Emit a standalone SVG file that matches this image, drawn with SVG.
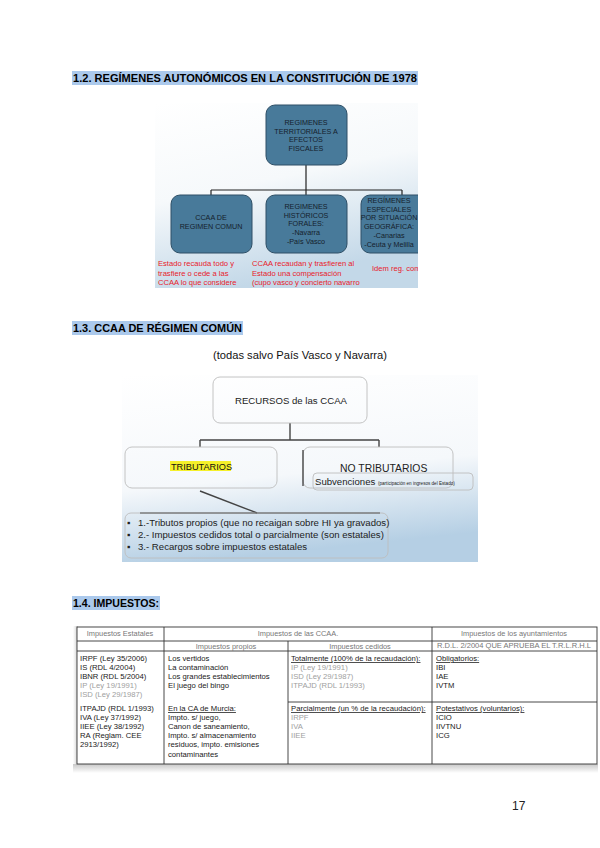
<svg xmlns="http://www.w3.org/2000/svg" width="600" height="848" viewBox="0 0 600 848">
<defs>
<linearGradient id="bg1" x1="0" y1="0" x2="0.3" y2="1">
<stop offset="0" stop-color="#ffffff"/>
<stop offset="0.5" stop-color="#f6f9fb"/>
<stop offset="1" stop-color="#c3d8e8"/>
</linearGradient>
<linearGradient id="bg2" x1="0" y1="0" x2="0.2" y2="1">
<stop offset="0" stop-color="#ffffff"/>
<stop offset="0.6" stop-color="#f5f8fb"/>
<stop offset="1" stop-color="#b5cfe4"/>
</linearGradient>
<linearGradient id="shadowB" x1="0" y1="0" x2="0" y2="1">
<stop offset="0" stop-color="#c8c8c8"/>
<stop offset="1" stop-color="#ffffff"/>
</linearGradient>
<linearGradient id="shadowL" x1="0" y1="0" x2="1" y2="0">
<stop offset="0" stop-color="#ffffff"/>
<stop offset="1" stop-color="#cfcfcf"/>
</linearGradient>
<clipPath id="clip1"><rect x="155" y="103" width="263" height="185"/></clipPath>
</defs>
<style>
text{font-family:"Liberation Sans",Arial,sans-serif}
.h{font-size:11.5px;font-weight:bold;fill:#000}
.hl{fill:#abc9ec}
.bn{fill:#487a9a;stroke:#2e4f66;stroke-width:1}
.bt{font-size:7.2px;fill:#15212c;text-anchor:middle}
.red{font-size:7.6px;fill:#e8202a}
.c1{stroke:#222;stroke-width:1.2;fill:none}
.c2{stroke:#444;stroke-width:1.4;fill:none}
.gb{fill:none;stroke:#bdbdbd;stroke-width:0.9}
.t{font-size:7.7px;fill:#1a1a1a}
.tg{font-size:7.7px;fill:#a0a0a0}
.th{font-size:7.4px;fill:#777;text-anchor:middle}
.tl{stroke:#333;stroke-width:0.9}
.b2{font-size:9.6px;fill:#222}
</style>

<!-- Heading 1.2 -->
<g id="heading12">
<rect class="hl" x="72" y="71" width="346" height="14"/>
<text class="h" x="73" y="82" textLength="344" lengthAdjust="spacingAndGlyphs">1.2. REGÍMENES AUTONÓMICOS EN LA CONSTITUCIÓN DE 1978</text>
</g>

<!-- Image 1 -->
<g id="image1" clip-path="url(#clip1)">
<rect x="155" y="103" width="263" height="185" fill="url(#bg1)"/>
<g id="connectors1">
<path class="c1" d="M306 165 V190 M211 190 H402 M211 190 V195 M306 190 V195 M402 190 V195"/>
</g>
<g id="n_top">
<rect class="bn" x="266" y="105" width="81" height="60" rx="9"/>
<text class="bt" x="306" y="125">REGIMENES</text>
<text class="bt" x="306" y="133.5">TERRITORIALES A</text>
<text class="bt" x="306" y="142">EFECTOS</text>
<text class="bt" x="306" y="150.5">FISCALES</text>
</g>
<g id="n_comun">
<rect class="bn" x="171" y="195" width="81" height="58" rx="9"/>
<text class="bt" x="211" y="220">CCAA DE</text>
<text class="bt" x="211" y="229">REGIMEN COMUN</text>
</g>
<g id="n_forales">
<rect class="bn" x="266" y="195" width="81" height="58" rx="9"/>
<text class="bt" x="306" y="209">REGIMENES</text>
<text class="bt" x="306" y="217.5">HISTÓRICOS</text>
<text class="bt" x="306" y="226">FORALES:</text>
<text class="bt" x="306" y="235">-Navarra</text>
<text class="bt" x="306" y="244">-País Vasco</text>
</g>
<g id="n_especiales">
<rect class="bn" x="361" y="195" width="72" height="58" rx="9"/>
<text class="bt" x="389" y="203">REGÍMENES</text>
<text class="bt" x="389" y="211.5">ESPECIALES</text>
<text class="bt" x="389" y="220">POR SITUACIÓN</text>
<text class="bt" x="389" y="228.5">GEOGRÁFICA:</text>
<text class="bt" x="389" y="238">-Canarias</text>
<text class="bt" x="389" y="247">-Ceuta y Melilla</text>
</g>
<g id="notes1">
<text class="red" x="158" y="266">Estado recauda todo y</text>
<text class="red" x="158" y="275.5">trasfiere o cede a las</text>
<text class="red" x="158" y="285">CCAA lo que considere</text>
<text class="red" x="252" y="266">CCAA recaudan y trasfieren al</text>
<text class="red" x="252" y="275.5">Estado una compensación</text>
<text class="red" x="252" y="285">(cupo vasco y concierto navarro</text>
<text class="red" x="372" y="271">Idem reg. común</text>
</g>
</g>

<!-- Heading 1.3 -->
<g id="heading13">
<rect class="hl" x="72" y="321" width="171" height="14"/>
<text class="h" x="73" y="332" textLength="169" lengthAdjust="spacingAndGlyphs">1.3. CCAA DE RÉGIMEN COMÚN</text>
</g>
<text x="213" y="359" font-size="11.5" fill="#111" textLength="174" lengthAdjust="spacingAndGlyphs">(todas salvo País Vasco y Navarra)</text>

<!-- Image 2 -->
<g id="image2">
<rect x="122" y="375" width="356" height="187" fill="url(#bg2)"/>
<g id="connectors2">
<path class="c2" d="M290 423 V440 M200 440 H379 M200 440 V447 M379 440 V447"/>
<path class="c2" d="M200 491 L257 513"/>
</g>
<g id="n_recursos">
<rect class="gb" x="213" y="377" width="154" height="46" rx="7"/>
<text x="235" y="404" font-size="9.6" fill="#222">RECURSOS de las CCAA</text>
</g>
<g id="n_tributarios">
<rect class="gb" x="125" y="447" width="152" height="41" rx="7"/>
<rect x="170" y="461" width="61" height="10" fill="#f5f02a"/>
<text x="171" y="469.5" font-size="9.2" fill="#111">TRIBUTARIOS</text>
</g>
<g id="n_notributarios">
<rect class="gb" x="303" y="447" width="150" height="41" rx="7"/>
<line x1="303" y1="450" x2="303" y2="486" stroke="#333" stroke-width="1.2"/>
<text x="340" y="472" font-size="10.4" fill="#222">NO TRIBUTARIOS</text>
<rect class="gb" x="313" y="473" width="160" height="17" rx="4"/>
<text x="315" y="485" font-size="9.6" fill="#222">Subvenciones <tspan font-size="4.6">(participación en ingresos del Estado)</tspan></text>
</g>
<g id="n_lista">
<rect class="gb" x="125" y="513" width="263" height="45" rx="6"/>
<line x1="140" y1="513" x2="380" y2="513" stroke="#555" stroke-width="1"/>
<text class="b2" x="127" y="526">▪</text>
<text class="b2" x="138" y="526">1.-Tributos propios (que no recaigan sobre HI ya gravados)</text>
<text class="b2" x="127" y="538">▪</text>
<text class="b2" x="138" y="538">2.- Impuestos cedidos total o parcialmente (son estatales)</text>
<text class="b2" x="127" y="550">▪</text>
<text class="b2" x="138" y="550">3.- Recargos sobre impuestos estatales</text>
</g>
</g>

<!-- Heading 1.4 -->
<g id="heading14">
<rect class="hl" x="72" y="596" width="88" height="14"/>
<text class="h" x="73" y="607" textLength="86" lengthAdjust="spacingAndGlyphs">1.4. IMPUESTOS:</text>
</g>

<!-- Table -->
<g id="table">
<rect x="73" y="626" width="5" height="140" fill="url(#shadowL)"/>
<rect x="73" y="764" width="525" height="9" fill="url(#shadowB)"/>
<rect x="77" y="627" width="520" height="137" fill="#fff"/>
<g id="tablelines">
<rect x="77" y="627" width="520" height="137" fill="none" stroke="#333" stroke-width="0.9"/>
<line class="tl" x1="77" y1="641" x2="597" y2="641"/>
<line class="tl" x1="164" y1="651" x2="432" y2="651"/>
<line class="tl" x1="77" y1="651" x2="164" y2="651"/>
<line class="tl" x1="432" y1="651" x2="597" y2="651"/>
<line class="tl" x1="164" y1="627" x2="164" y2="764"/>
<line class="tl" x1="288" y1="641" x2="288" y2="764"/>
<line class="tl" x1="432" y1="627" x2="432" y2="764"/>
<line class="tl" x1="288" y1="702" x2="597" y2="702"/>
</g>
<text class="th" x="120" y="636">Impuestos Estatales</text>
<text class="th" x="298" y="636">Impuestos de las CCAA.</text>
<text class="th" x="514" y="636">Impuestos de los ayuntamientos</text>
<text class="th" x="514" y="648" textLength="154" lengthAdjust="spacingAndGlyphs">R.D.L. 2/2004 QUE APRUEBA EL T.R.L.R.H.L</text>
<text class="th" x="226" y="648.5">Impuestos propios</text>
<text class="th" x="360" y="648.5">Impuestos cedidos</text>

<text class="t" x="80" y="661">IRPF (Ley 35/2006)</text>
<text class="t" x="80" y="670">IS (RDL 4/2004)</text>
<text class="t" x="80" y="679">IBNR (RDL 5/2004)</text>
<text class="tg" x="80" y="688">IP (Ley 19/1991)</text>
<text class="tg" x="80" y="697">ISD (Ley 29/1987)</text>
<text class="t" x="80" y="711">ITPAJD (RDL 1/1993)</text>
<text class="t" x="80" y="720">IVA (Ley 37/1992)</text>
<text class="t" x="80" y="729">IIEE (Ley 38/1992)</text>
<text class="t" x="80" y="738">RA (Reglam. CEE</text>
<text class="t" x="80" y="747">2913/1992)</text>

<text class="t" x="168" y="661">Los vertidos</text>
<text class="t" x="168" y="670">La contaminación</text>
<text class="t" x="168" y="679">Los grandes establecimientos</text>
<text class="t" x="168" y="688">El juego del bingo</text>
<text class="t" x="168" y="711" text-decoration="underline">En la CA de Murcia:</text>
<text class="t" x="168" y="720">Impto. s/ juego,</text>
<text class="t" x="168" y="729">Canon de saneamiento,</text>
<text class="t" x="168" y="738">Impto. s/ almacenamiento</text>
<text class="t" x="168" y="747">residuos, impto. emisiones</text>
<text class="t" x="168" y="756.5">contaminantes</text>

<text class="t" x="291" y="661" text-decoration="underline">Totalmente (100% de la recaudación):</text>
<text class="tg" x="291" y="670">IP (Ley 19/1991)</text>
<text class="tg" x="291" y="679">ISD (Ley 29/1987)</text>
<text class="tg" x="291" y="688">ITPAJD (RDL 1/1993)</text>
<text class="t" x="291" y="711" text-decoration="underline">Parcialmente (un % de la recaudación):</text>
<text class="tg" x="291" y="720">IRPF</text>
<text class="tg" x="291" y="729">IVA</text>
<text class="tg" x="291" y="738">IIEE</text>

<text class="t" x="436" y="661" text-decoration="underline">Obligatorios:</text>
<text class="t" x="436" y="670">IBI</text>
<text class="t" x="436" y="679">IAE</text>
<text class="t" x="436" y="688">IVTM</text>
<text class="t" x="436" y="711" text-decoration="underline">Potestativos (voluntarios):</text>
<text class="t" x="436" y="720">ICIO</text>
<text class="t" x="436" y="729">IIVTNU</text>
<text class="t" x="436" y="738">ICG</text>
</g>

<text x="512" y="810" font-size="12" fill="#222">17</text>
</svg>
